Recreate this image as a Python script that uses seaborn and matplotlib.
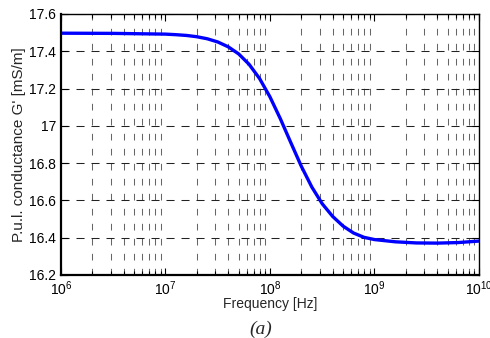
import numpy as np
import pandas as pd
import matplotlib
matplotlib.use('Agg')
import matplotlib.pyplot as plt
import matplotlib.ticker as mticker
import seaborn as sns

# frequency points [Hz] and p.u.l. conductance G' [mS/m]
freq = [1e6, 3.16e6, 1e7, 1.259e7, 1.585e7, 1.995e7, 2.512e7, 3.162e7, 3.981e7, 5.012e7,
        6.31e7, 7.943e7, 1e8, 1.259e8, 1.585e8, 1.995e8, 2.512e8, 3.162e8, 3.981e8,
        5.012e8, 6.31e8, 7.943e8, 1e9, 1.585e9, 2.512e9, 3.981e9, 6.31e9, 1e10]
cond = [17.497, 17.496, 17.492, 17.489, 17.485, 17.478, 17.467, 17.450, 17.424, 17.386,
        17.330, 17.254, 17.155, 17.037, 16.909, 16.783, 16.672, 16.582, 16.514,
        16.462, 16.425, 16.402, 16.390, 16.378, 16.372, 16.371, 16.374, 16.382]
y_ticks = [16.2, 16.4, 16.6, 16.8, 17.0, 17.2, 17.4, 17.6]
y_labels = ['16.2', '16.4', '16.6', '16.8', '17', '17.2', '17.4', '17.6']

df = pd.DataFrame({'Frequency': freq, 'G': cond})

sns.set_style('ticks')
plt.rcParams['font.family'] = ['Liberation Sans', 'DejaVu Sans']
plt.rcParams['mathtext.default'] = 'regular'
plt.rcParams['lines.scale_dashes'] = False

fig = plt.figure(figsize=(4.9, 3.38), dpi=100)
ax = fig.add_axes([0.1245, 0.1864, 0.853, 0.7722])

sns.lineplot(data=df, x='Frequency', y='G', ax=ax, color='#0000ff', lw=2.4)
ax.set_xscale('log')
ax.set_xlim(1e6, 1e10)
ax.set_ylim(16.2, 17.6)
ax.set_yticks(y_ticks)
ax.set_yticklabels(y_labels)
ax.xaxis.set_major_locator(mticker.LogLocator(base=10, numticks=10))
ax.xaxis.set_minor_locator(mticker.LogLocator(base=10, subs=np.arange(2, 10), numticks=20))
ax.xaxis.set_minor_formatter(mticker.NullFormatter())

# dashed grid: vertical at minor x ticks, horizontal at major y ticks
ax.grid(False)
ax.grid(which='minor', axis='x', color='#666666', lw=0.75, linestyle=(0, (4.8, 6.0)))
ax.grid(which='major', axis='y', color='#222222', lw=0.75, linestyle=(0, (5.8, 5.0)))

ax.tick_params(which='both', direction='in', top=True, right=True, labelsize=10, colors='black')
ax.tick_params(which='major', length=5, width=0.8)
ax.tick_params(which='minor', length=3, width=0.8)
for s in ax.spines.values():
    s.set_linewidth(1.0)
    s.set_color('black')
ax.spines['left'].set_linewidth(1.6)
ax.spines['bottom'].set_linewidth(1.6)

ax.set_xlabel('Frequency [Hz]', fontsize=10, labelpad=-1)
ax.set_ylabel("P.u.l. conductance G' [mS/m]", fontsize=11, labelpad=2)
fig.text(0.532, 0.012, '(a)', fontsize=14, style='italic',
         family=['Liberation Serif', 'DejaVu Serif'], ha='center')

fig.savefig('out.png', dpi=100)
plt.close()
